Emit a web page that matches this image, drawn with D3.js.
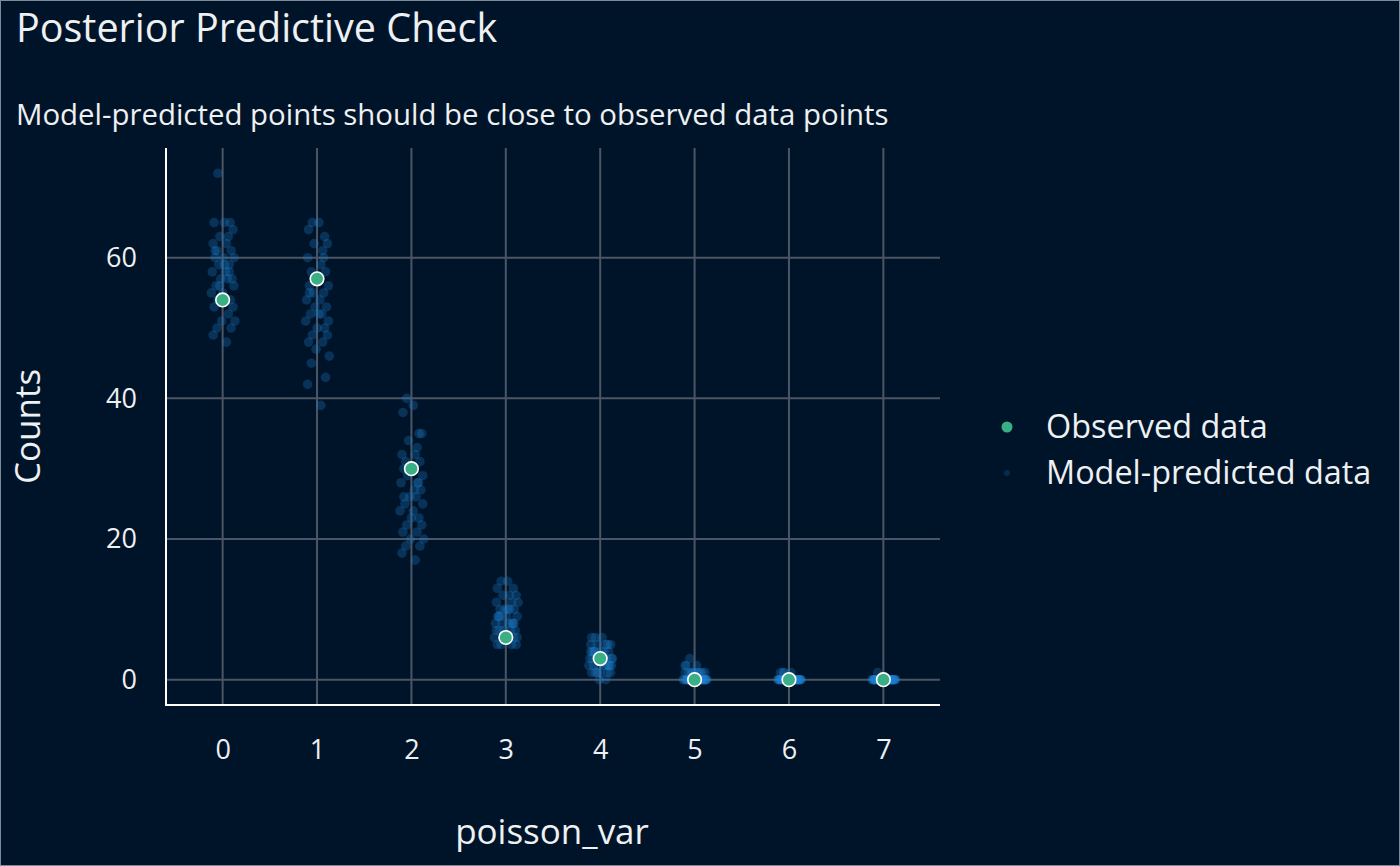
<!DOCTYPE html>
<html>
<head>
<meta charset="utf-8">
<script src="https://cdn.jsdelivr.net/npm/d3@7"></script>
<style>
  html, body { margin: 0; padding: 0; background: #001429; }
  svg { display: block; font-family: 'Open Sans', 'Noto Sans', sans-serif; }
</style>
</head>
<body>
<script>
// ---- Data ------------------------------------------------------------------
var categories = [0, 1, 2, 3, 4, 5, 6, 7];
var observed   = [54, 57, 30, 6, 3, 0, 0, 0];

// model-predicted counts per category (posterior draws)
var predicted = [
  [72, 65, 65, 65, 64, 63, 63, 62, 62, 61, 61, 60, 60, 60, 59, 59, 58, 58, 57, 57,
   57, 56, 56, 55, 55, 54, 54, 53, 53, 52, 51, 51, 50, 50, 49, 48, 56, 58, 61, 59],
  [65, 65, 64, 63, 62, 62, 61, 60, 59, 58, 58, 57, 56, 56, 55, 55, 54, 54, 53, 53,
   52, 52, 51, 51, 50, 50, 49, 49, 48, 48, 47, 46, 45, 43, 42, 39, 57, 60, 55, 52],
  [40, 39, 38, 35, 35, 34, 33, 32, 32, 31, 31, 30, 30, 29, 29, 28, 28, 27, 27, 26,
   26, 25, 25, 24, 23, 23, 22, 22, 21, 21, 20, 20, 19, 19, 18, 17, 30, 28, 26, 24],
  [14, 14, 13, 13, 12, 12, 11, 11, 10, 10, 10, 9, 9, 9, 8, 8, 8, 8, 7, 7,
   7, 7, 6, 6, 6, 6, 5, 5, 5, 5, 10, 11, 9, 8, 7, 12, 6, 8, 9, 10],
  [6, 6, 6, 5, 5, 5, 5, 4, 4, 4, 4, 4, 3, 3, 3, 3, 3, 3, 2, 2,
   2, 2, 2, 2, 1, 1, 1, 1, 1, 0, 0, 3, 4, 2, 5, 3, 1, 2, 4, 3],
  [3, 2, 2, 1, 1, 1, 1, 1, 1, 0, 0, 0, 0, 0, 0, 0, 0, 0, 0, 0,
   0, 0, 0, 0, 0, 0, 0, 0, 0, 0, 1, 0, 1, 0, 2, 0, 1, 0, 0, 1],
  [1, 1, 1, 0, 0, 0, 0, 0, 0, 0, 0, 0, 0, 0, 0, 0, 0, 0, 0, 0,
   0, 0, 0, 0, 0, 0, 0, 0, 0, 0, 0, 0, 1, 0, 0, 0, 0, 0, 0, 0],
  [0, 0, 0, 0, 0, 0, 0, 0, 0, 0, 0, 0, 0, 0, 0, 0, 0, 0, 0, 0,
   0, 0, 0, 0, 0, 0, 0, 0, 0, 0, 0, 0, 1, 0, 0, 0, 0, 0, 0, 0]
];

// horizontal jitter (in category units), same pattern reused per category
var jitter = [-0.05, 0.02, -0.09, 0.08, 0.11, -0.03, 0.06, -0.10, 0.04, -0.06,
              0.09, 0.01, -0.08, 0.12, -0.04, 0.07, -0.11, 0.03, 0.10, -0.02,
              0.05, -0.07, 0.12, -0.12, 0.00, 0.08, -0.05, 0.11, -0.09, 0.06,
              -0.01, 0.13, -0.06, 0.09, -0.10, 0.04, -0.03, 0.07, -0.08, 0.02];

var yTicks = [0, 20, 40, 60];

var TITLE    = 'Posterior Predictive Check';
var SUBTITLE = 'Model-predicted points should be close to observed data points';
var X_TITLE  = 'poisson_var';
var Y_TITLE  = 'Counts';
var LEGEND   = ['Observed data', 'Model-predicted data'];

// ---- Style -----------------------------------------------------------------
var W = 1400, H = 866;
var BG = '#001429';
var TEXT = '#eef0f2';
var GRID = '#4b5563';
var OBS_COLOR = '#3aaf85';
var PRED_COLOR = '#1c82d4';

var panel = { left: 166, right: 940, top: 148, bottom: 705 };

// ---- Render ----------------------------------------------------------------
var svg = d3.select('body').append('svg')
  .attr('width', W).attr('height', H);

svg.append('rect')
  .attr('x', 0.5).attr('y', 0.5)
  .attr('width', W - 1).attr('height', H - 1)
  .attr('fill', BG)
  .attr('stroke', '#7c8a99').attr('stroke-width', 1);

var x = d3.scaleLinear().domain([-0.6, 7.6]).range([panel.left, panel.right]);
var y = d3.scaleLinear().domain([-3.6, 75.6]).range([panel.bottom, panel.top]);

// gridlines
var grid = svg.append('g');
grid.selectAll('line.h').data(yTicks).enter().append('line')
  .attr('x1', panel.left).attr('x2', panel.right)
  .attr('y1', function(d) { return y(d); }).attr('y2', function(d) { return y(d); })
  .attr('stroke', GRID).attr('stroke-width', 2);
grid.selectAll('line.v').data(categories).enter().append('line')
  .attr('y1', panel.top).attr('y2', panel.bottom)
  .attr('x1', function(d) { return x(d); }).attr('x2', function(d) { return x(d); })
  .attr('stroke', GRID).attr('stroke-width', 2);

// predicted points
var predPts = [];
predicted.forEach(function(vals, ci) {
  vals.forEach(function(v, i) {
    predPts.push({ cat: categories[ci], v: v, j: jitter[i % jitter.length] });
  });
});
svg.append('g').selectAll('circle').data(predPts).enter().append('circle')
  .attr('cx', function(d) { return x(d.cat + d.j); })
  .attr('cy', function(d) { return y(d.v); })
  .attr('r', 4.8)
  .attr('fill', PRED_COLOR)
  .attr('fill-opacity', 0.28);

// observed points
svg.append('g').selectAll('circle').data(observed).enter().append('circle')
  .attr('cx', function(d, i) { return x(categories[i]); })
  .attr('cy', function(d) { return y(d); })
  .attr('r', 6.8)
  .attr('fill', OBS_COLOR)
  .attr('stroke', '#ffffff').attr('stroke-width', 1.6);

// axes
var yAxis = svg.append('g')
  .attr('transform', 'translate(' + panel.left + ',0)')
  .call(d3.axisLeft(y).tickValues(yTicks).tickSize(0).tickPadding(29));
var xAxis = svg.append('g')
  .attr('transform', 'translate(0,' + panel.bottom + ')')
  .call(d3.axisBottom(x).tickValues(categories).tickSize(0).tickPadding(0));
[yAxis, xAxis].forEach(function(a) {
  a.select('.domain').remove();
  a.selectAll('text')
    .attr('fill', TEXT)
    .style('font-size', '27px')
    .style('font-family', "'Open Sans', 'Noto Sans', sans-serif");
});
xAxis.selectAll('text').attr('y', 45).attr('dy', '0.35em');

svg.append('line')
  .attr('x1', panel.left).attr('x2', panel.left)
  .attr('y1', panel.top).attr('y2', panel.bottom + 1)
  .attr('stroke', '#ffffff').attr('stroke-width', 2);
svg.append('line')
  .attr('x1', panel.left - 1).attr('x2', panel.right)
  .attr('y1', panel.bottom).attr('y2', panel.bottom)
  .attr('stroke', '#ffffff').attr('stroke-width', 2);

// titles
svg.append('text')
  .attr('x', 16).attr('y', 42)
  .attr('fill', TEXT).style('font-size', '39.5px')
  .text(TITLE);
svg.append('text')
  .attr('x', 16).attr('y', 125)
  .attr('fill', TEXT).style('font-size', '29.4px')
  .text(SUBTITLE);
svg.append('text')
  .attr('x', (panel.left + panel.right) / 2 - 1).attr('y', 844)
  .attr('text-anchor', 'middle')
  .attr('fill', TEXT).style('font-size', '35px')
  .text(X_TITLE);
svg.append('text')
  .attr('transform', 'translate(40,' + ((panel.top + panel.bottom) / 2) + ') rotate(-90)')
  .attr('text-anchor', 'middle')
  .attr('fill', TEXT).style('font-size', '35px')
  .text(Y_TITLE);

// legend
var legend = svg.append('g').attr('transform', 'translate(1007,427)');
legend.append('circle').attr('cx', 0).attr('cy', 0).attr('r', 5.5).attr('fill', OBS_COLOR);
legend.append('circle').attr('cx', 0).attr('cy', 46).attr('r', 3)
  .attr('fill', PRED_COLOR).attr('fill-opacity', 0.22);
legend.selectAll('text').data(LEGEND).enter().append('text')
  .attr('x', 39).attr('y', function(d, i) { return i * 46; })
  .attr('dy', '0.35em')
  .attr('fill', TEXT).style('font-size', '32.4px')
  .text(function(d) { return d; });
</script>
</body>
</html>
